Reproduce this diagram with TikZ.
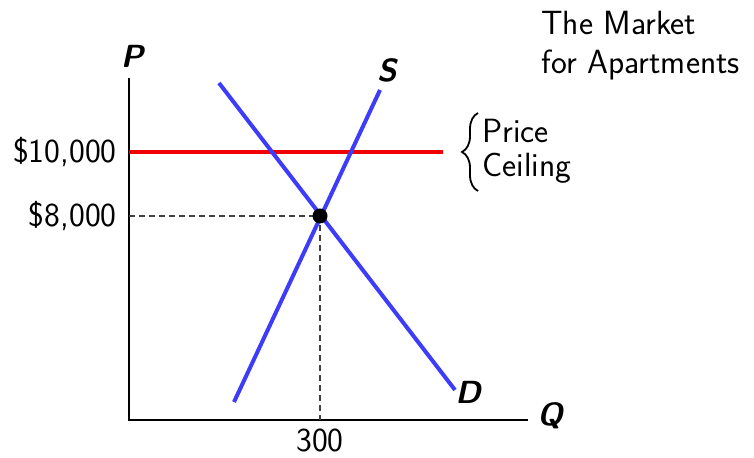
\documentclass[tikz,border=0pt]{standalone}
\usepackage{fontspec}
\usepackage{tikz}
\usetikzlibrary{decorations.pathreplacing}
\definecolor{curveblue}{RGB}{60,60,250}
\definecolor{ceilred}{RGB}{240,0,0}

\begin{document}
\begin{tikzpicture}[x=0.5pt, y=0.5pt,
    every node/.style={font=\sffamily\fontsize{16.8}{19.5}\selectfont, inner sep=0pt},
    axislbl/.style={font=\sffamily\bfseries\itshape\fontsize{16}{19}\selectfont},
    curve/.style={curveblue, line width=2pt},
    guide/.style={black!75, line width=0.6pt, dash pattern=on 3pt off 2pt}]
  \useasboundingbox (0,0) rectangle (754,458);

  % axes
  \coordinate (O) at (129,38);
  \coordinate (ptop) at (129,380);
  \coordinate (qend) at (528,38);
  \draw[line width=0.9pt] (ptop) -- (O) -- (qend);
  \node[axislbl] (plbl) at (132,402) {P};
  \node[axislbl] (qlbl) at (550,42) {Q};

  % price ceiling
  \coordinate (c0) at (129,306);
  \coordinate (c1) at (443,306);
  \draw[ceilred, line width=1.8pt] (c0) -- (c1);

  % supply and demand
  \coordinate (s0) at (234,56);
  \coordinate (s1) at (380,368);
  \coordinate (d0) at (219,375);
  \coordinate (d1) at (455,68);
  \draw[curve] (s0) -- (s1);
  \draw[curve] (d0) -- (d1);
  \node[axislbl] (slbl) at (387,388) {S};
  \node[axislbl] (dlbl) at (468,66) {D};

  % equilibrium
  \coordinate (eqp) at (129,242);
  \coordinate (eqq) at (320,38);
  \draw[guide] (eqp) -- (320,242) -- (eqq);
  \node[circle, fill=black, minimum size=7.5pt] (eq) at (320,242) {};

  \node[anchor=east] (p10) at (117,306) {\$10,000};
  \node[anchor=east] (p8) at (117,242) {\$8,000};
  \node (q300) at (320,18) {300};

  \draw[decorate, decoration={brace, amplitude=8pt}, line width=0.9pt] (478,267) -- (478,345);
  \node[anchor=west, align=left, font=\sffamily\fontsize{16.8}{17}\selectfont] (ceil) at (482,307) {Price\\Ceiling};

  \node[anchor=west, align=left] (title) at (541,412) {The Market\\for Apartments};
\end{tikzpicture}
\end{document}
